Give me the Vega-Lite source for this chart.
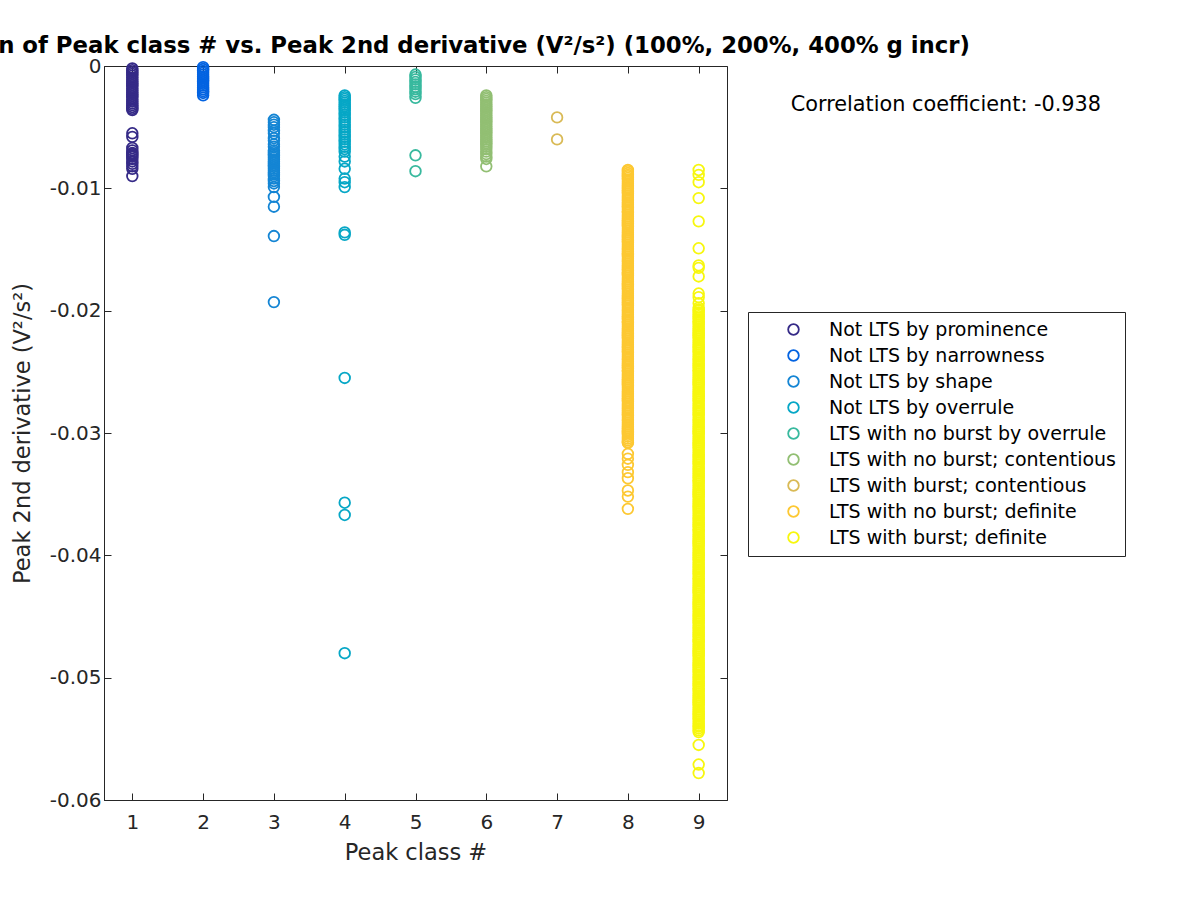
{
"$schema": "https://vega.github.io/schema/vega-lite/v6.json",
"width": 623, "height": 734,
"autosize": {"type": "none"},
"padding": {"left": 104, "top": 66, "right": 473, "bottom": 100},
"background": "white",
"title": {"text": "Distribution of Peak class # vs. Peak 2nd derivative (V²/s²) (100%, 200%, 400% g incr)", "anchor": "middle", "font": "DejaVu Sans", "fontSize": 22.8, "fontWeight": "bold", "color": "black", "baseline": "alphabetic", "offset": -20},
"datasets": {
"classes": [
{"c":1,"name":"Not LTS by prominence"},{"c":2,"name":"Not LTS by narrowness"},{"c":3,"name":"Not LTS by shape"},{"c":4,"name":"Not LTS by overrule"},{"c":5,"name":"LTS with no burst by overrule"},{"c":6,"name":"LTS with no burst; contentious"},{"c":7,"name":"LTS with burst; contentious"},{"c":8,"name":"LTS with no burst; definite"},{"c":9,"name":"LTS with burst; definite"}],
"points": [
{"c":1,"v":-0.0002},{"c":1,"v":-0.00035},{"c":1,"v":-0.0005},{"c":1,"v":-0.00065},{"c":1,"v":-0.0008},{"c":1,"v":-0.00095},{"c":1,"v":-0.0011},{"c":1,"v":-0.00125},{"c":1,"v":-0.0014},{"c":1,"v":-0.00155},{"c":1,"v":-0.0017},{"c":1,"v":-0.00185},{"c":1,"v":-0.002},{"c":1,"v":-0.00215},{"c":1,"v":-0.0023},{"c":1,"v":-0.00245},{"c":1,"v":-0.0026},{"c":1,"v":-0.00275},{"c":1,"v":-0.0029},{"c":1,"v":-0.00305},{"c":1,"v":-0.0032},{"c":1,"v":-0.00335},{"c":1,"v":-0.0035},{"c":1,"v":-0.0036},
{"c":1,"v":-0.0055},{"c":1,"v":-0.0058},{"c":1,"v":-0.0067},{"c":1,"v":-0.0069},{"c":1,"v":-0.0071},{"c":1,"v":-0.0072},{"c":1,"v":-0.0073},{"c":1,"v":-0.0074},{"c":1,"v":-0.0076},{"c":1,"v":-0.0078},{"c":1,"v":-0.008},{"c":1,"v":-0.0082},{"c":1,"v":-0.0084},{"c":1,"v":-0.009},
{"c":2,"v":-0.0001},{"c":2,"v":-0.00025},{"c":2,"v":-0.0004},{"c":2,"v":-0.00055},{"c":2,"v":-0.0007},{"c":2,"v":-0.00085},{"c":2,"v":-0.001},{"c":2,"v":-0.00115},{"c":2,"v":-0.0013},{"c":2,"v":-0.00145},{"c":2,"v":-0.0016},{"c":2,"v":-0.00175},{"c":2,"v":-0.0019},{"c":2,"v":-0.00205},{"c":2,"v":-0.0022},{"c":2,"v":-0.0024},
{"c":3,"v":-0.0044},{"c":3,"v":-0.0046},{"c":3,"v":-0.0048},{"c":3,"v":-0.005},{"c":3,"v":-0.0053},{"c":3,"v":-0.0055},{"c":3,"v":-0.0059},{"c":3,"v":-0.0061},{"c":3,"v":-0.0064},{"c":3,"v":-0.0066},{"c":3,"v":-0.0069},{"c":3,"v":-0.00705},{"c":3,"v":-0.0072},{"c":3,"v":-0.00735},{"c":3,"v":-0.0075},{"c":3,"v":-0.00765},{"c":3,"v":-0.0078},{"c":3,"v":-0.00795},{"c":3,"v":-0.0081},{"c":3,"v":-0.00825},{"c":3,"v":-0.0084},{"c":3,"v":-0.00855},{"c":3,"v":-0.0087},{"c":3,"v":-0.00885},{"c":3,"v":-0.009},{"c":3,"v":-0.0092},{"c":3,"v":-0.0094},{"c":3,"v":-0.0096},{"c":3,"v":-0.0099},{"c":3,"v":-0.0107},{"c":3,"v":-0.0115},{"c":3,"v":-0.0139},{"c":3,"v":-0.0193},
{"c":4,"v":-0.0024},{"c":4,"v":-0.00255},{"c":4,"v":-0.0027},{"c":4,"v":-0.00285},{"c":4,"v":-0.003},{"c":4,"v":-0.00315},{"c":4,"v":-0.0033},{"c":4,"v":-0.00345},{"c":4,"v":-0.0036},{"c":4,"v":-0.0038},{"c":4,"v":-0.004},{"c":4,"v":-0.0042},{"c":4,"v":-0.0044},{"c":4,"v":-0.0046},{"c":4,"v":-0.0048},{"c":4,"v":-0.005},{"c":4,"v":-0.0052},{"c":4,"v":-0.0054},{"c":4,"v":-0.0056},{"c":4,"v":-0.0058},{"c":4,"v":-0.006},{"c":4,"v":-0.0062},{"c":4,"v":-0.0064},{"c":4,"v":-0.0066},{"c":4,"v":-0.0068},{"c":4,"v":-0.007},{"c":4,"v":-0.0074},{"c":4,"v":-0.0078},{"c":4,"v":-0.0084},{"c":4,"v":-0.0092},{"c":4,"v":-0.0095},{"c":4,"v":-0.0099},{"c":4,"v":-0.0136},{"c":4,"v":-0.0138},{"c":4,"v":-0.0255},{"c":4,"v":-0.0357},{"c":4,"v":-0.0367},{"c":4,"v":-0.048},
{"c":5,"v":-0.0007},{"c":5,"v":-0.0009},{"c":5,"v":-0.0011},{"c":5,"v":-0.0013},{"c":5,"v":-0.0015},{"c":5,"v":-0.0017},{"c":5,"v":-0.0019},{"c":5,"v":-0.0021},{"c":5,"v":-0.0023},{"c":5,"v":-0.0026},{"c":5,"v":-0.0073},{"c":5,"v":-0.0086},
{"c":6,"v":-0.0024},{"c":6,"v":-0.00255},{"c":6,"v":-0.0027},{"c":6,"v":-0.00285},{"c":6,"v":-0.003},{"c":6,"v":-0.00315},{"c":6,"v":-0.0033},{"c":6,"v":-0.00345},{"c":6,"v":-0.0036},{"c":6,"v":-0.00375},{"c":6,"v":-0.0039},{"c":6,"v":-0.00405},{"c":6,"v":-0.0042},{"c":6,"v":-0.00435},{"c":6,"v":-0.0045},{"c":6,"v":-0.00465},{"c":6,"v":-0.0048},{"c":6,"v":-0.00495},{"c":6,"v":-0.0051},{"c":6,"v":-0.00525},{"c":6,"v":-0.0054},{"c":6,"v":-0.00555},{"c":6,"v":-0.0057},{"c":6,"v":-0.00585},{"c":6,"v":-0.006},{"c":6,"v":-0.00615},{"c":6,"v":-0.0063},{"c":6,"v":-0.00645},{"c":6,"v":-0.0066},{"c":6,"v":-0.0068},{"c":6,"v":-0.007},{"c":6,"v":-0.0072},{"c":6,"v":-0.0074},{"c":6,"v":-0.0076},{"c":6,"v":-0.0082},
{"c":7,"v":-0.0042},{"c":7,"v":-0.006},
{"c":8,"v":-0.0085},{"c":8,"v":-0.0086},{"c":8,"v":-0.00875},{"c":8,"v":-0.0089},
{"c":8,"v":-0.009},{"c":8,"v":-0.00915},{"c":8,"v":-0.0093},{"c":8,"v":-0.00945},{"c":8,"v":-0.0096},{"c":8,"v":-0.00975},{"c":8,"v":-0.0099},
{"c":8,"v":-0.01},{"c":8,"v":-0.01015},{"c":8,"v":-0.0103},{"c":8,"v":-0.01045},{"c":8,"v":-0.0106},{"c":8,"v":-0.01075},{"c":8,"v":-0.0109},
{"c":8,"v":-0.011},{"c":8,"v":-0.01115},{"c":8,"v":-0.0113},{"c":8,"v":-0.01145},{"c":8,"v":-0.0116},{"c":8,"v":-0.01175},{"c":8,"v":-0.0119},
{"c":8,"v":-0.012},{"c":8,"v":-0.01215},{"c":8,"v":-0.0123},{"c":8,"v":-0.01245},{"c":8,"v":-0.0126},{"c":8,"v":-0.01275},{"c":8,"v":-0.0129},
{"c":8,"v":-0.013},{"c":8,"v":-0.01315},{"c":8,"v":-0.0133},{"c":8,"v":-0.01345},{"c":8,"v":-0.0136},{"c":8,"v":-0.01375},{"c":8,"v":-0.0139},
{"c":8,"v":-0.014},{"c":8,"v":-0.01415},{"c":8,"v":-0.0143},{"c":8,"v":-0.01445},{"c":8,"v":-0.0146},{"c":8,"v":-0.01475},{"c":8,"v":-0.0149},
{"c":8,"v":-0.015},{"c":8,"v":-0.01515},{"c":8,"v":-0.0153},{"c":8,"v":-0.01545},{"c":8,"v":-0.0156},{"c":8,"v":-0.01575},{"c":8,"v":-0.0159},
{"c":8,"v":-0.016},{"c":8,"v":-0.01615},{"c":8,"v":-0.0163},{"c":8,"v":-0.01645},{"c":8,"v":-0.0166},{"c":8,"v":-0.01675},{"c":8,"v":-0.0169},
{"c":8,"v":-0.017},{"c":8,"v":-0.01715},{"c":8,"v":-0.0173},{"c":8,"v":-0.01745},{"c":8,"v":-0.0176},{"c":8,"v":-0.01775},{"c":8,"v":-0.0179},
{"c":8,"v":-0.018},{"c":8,"v":-0.01815},{"c":8,"v":-0.0183},{"c":8,"v":-0.01845},{"c":8,"v":-0.0186},{"c":8,"v":-0.01875},{"c":8,"v":-0.0189},
{"c":8,"v":-0.019},{"c":8,"v":-0.01915},{"c":8,"v":-0.0193},{"c":8,"v":-0.01945},{"c":8,"v":-0.0196},{"c":8,"v":-0.01975},{"c":8,"v":-0.0199},
{"c":8,"v":-0.02},{"c":8,"v":-0.02015},{"c":8,"v":-0.0203},{"c":8,"v":-0.02045},{"c":8,"v":-0.0206},{"c":8,"v":-0.02075},{"c":8,"v":-0.0209},
{"c":8,"v":-0.021},{"c":8,"v":-0.02115},{"c":8,"v":-0.0213},{"c":8,"v":-0.02145},{"c":8,"v":-0.0216},{"c":8,"v":-0.02175},{"c":8,"v":-0.0219},
{"c":8,"v":-0.022},{"c":8,"v":-0.02215},{"c":8,"v":-0.0223},{"c":8,"v":-0.02245},{"c":8,"v":-0.0226},{"c":8,"v":-0.02275},{"c":8,"v":-0.0229},
{"c":8,"v":-0.023},{"c":8,"v":-0.02315},{"c":8,"v":-0.0233},{"c":8,"v":-0.02345},{"c":8,"v":-0.0236},{"c":8,"v":-0.02375},{"c":8,"v":-0.0239},
{"c":8,"v":-0.024},{"c":8,"v":-0.02415},{"c":8,"v":-0.0243},{"c":8,"v":-0.02445},{"c":8,"v":-0.0246},{"c":8,"v":-0.02475},{"c":8,"v":-0.0249},
{"c":8,"v":-0.025},{"c":8,"v":-0.02515},{"c":8,"v":-0.0253},{"c":8,"v":-0.02545},{"c":8,"v":-0.0256},{"c":8,"v":-0.02575},{"c":8,"v":-0.0259},
{"c":8,"v":-0.026},{"c":8,"v":-0.02615},{"c":8,"v":-0.0263},{"c":8,"v":-0.02645},{"c":8,"v":-0.0266},{"c":8,"v":-0.02675},{"c":8,"v":-0.0269},
{"c":8,"v":-0.027},{"c":8,"v":-0.02715},{"c":8,"v":-0.0273},{"c":8,"v":-0.02745},{"c":8,"v":-0.0276},{"c":8,"v":-0.02775},{"c":8,"v":-0.0279},
{"c":8,"v":-0.028},{"c":8,"v":-0.02815},{"c":8,"v":-0.0283},{"c":8,"v":-0.02845},{"c":8,"v":-0.0286},{"c":8,"v":-0.02875},{"c":8,"v":-0.0289},
{"c":8,"v":-0.029},{"c":8,"v":-0.02915},{"c":8,"v":-0.0293},{"c":8,"v":-0.02945},{"c":8,"v":-0.0296},{"c":8,"v":-0.02975},{"c":8,"v":-0.0299},
{"c":8,"v":-0.03},{"c":8,"v":-0.03015},{"c":8,"v":-0.0303},{"c":8,"v":-0.03045},{"c":8,"v":-0.0306},{"c":8,"v":-0.03075},{"c":8,"v":-0.0308},
{"c":8,"v":-0.0317},{"c":8,"v":-0.0321},{"c":8,"v":-0.0326},{"c":8,"v":-0.0332},{"c":8,"v":-0.0337},{"c":8,"v":-0.0347},{"c":8,"v":-0.0352},{"c":8,"v":-0.0362},
{"c":9,"v":-0.0085},{"c":9,"v":-0.0089},{"c":9,"v":-0.0095},{"c":9,"v":-0.0108},{"c":9,"v":-0.0127},{"c":9,"v":-0.0149},{"c":9,"v":-0.0163},{"c":9,"v":-0.0165},{"c":9,"v":-0.0172},{"c":9,"v":-0.0186},{"c":9,"v":-0.0189},{"c":9,"v":-0.0194},{"c":9,"v":-0.01975},{"c":9,"v":-0.0199},
{"c":9,"v":-0.02},{"c":9,"v":-0.02015},{"c":9,"v":-0.0203},{"c":9,"v":-0.02045},{"c":9,"v":-0.0206},{"c":9,"v":-0.02075},{"c":9,"v":-0.0209},
{"c":9,"v":-0.021},{"c":9,"v":-0.02115},{"c":9,"v":-0.0213},{"c":9,"v":-0.02145},{"c":9,"v":-0.0216},{"c":9,"v":-0.02175},{"c":9,"v":-0.0219},
{"c":9,"v":-0.022},{"c":9,"v":-0.02215},{"c":9,"v":-0.0223},{"c":9,"v":-0.02245},{"c":9,"v":-0.0226},{"c":9,"v":-0.02275},{"c":9,"v":-0.0229},
{"c":9,"v":-0.023},{"c":9,"v":-0.02315},{"c":9,"v":-0.0233},{"c":9,"v":-0.02345},{"c":9,"v":-0.0236},{"c":9,"v":-0.02375},{"c":9,"v":-0.0239},
{"c":9,"v":-0.024},{"c":9,"v":-0.02415},{"c":9,"v":-0.0243},{"c":9,"v":-0.02445},{"c":9,"v":-0.0246},{"c":9,"v":-0.02475},{"c":9,"v":-0.0249},
{"c":9,"v":-0.025},{"c":9,"v":-0.02515},{"c":9,"v":-0.0253},{"c":9,"v":-0.02545},{"c":9,"v":-0.0256},{"c":9,"v":-0.02575},{"c":9,"v":-0.0259},
{"c":9,"v":-0.026},{"c":9,"v":-0.02615},{"c":9,"v":-0.0263},{"c":9,"v":-0.02645},{"c":9,"v":-0.0266},{"c":9,"v":-0.02675},{"c":9,"v":-0.0269},
{"c":9,"v":-0.027},{"c":9,"v":-0.02715},{"c":9,"v":-0.0273},{"c":9,"v":-0.02745},{"c":9,"v":-0.0276},{"c":9,"v":-0.02775},{"c":9,"v":-0.0279},
{"c":9,"v":-0.028},{"c":9,"v":-0.02815},{"c":9,"v":-0.0283},{"c":9,"v":-0.02845},{"c":9,"v":-0.0286},{"c":9,"v":-0.02875},{"c":9,"v":-0.0289},
{"c":9,"v":-0.029},{"c":9,"v":-0.02915},{"c":9,"v":-0.0293},{"c":9,"v":-0.02945},{"c":9,"v":-0.0296},{"c":9,"v":-0.02975},{"c":9,"v":-0.0299},
{"c":9,"v":-0.03},{"c":9,"v":-0.03015},{"c":9,"v":-0.0303},{"c":9,"v":-0.03045},{"c":9,"v":-0.0306},{"c":9,"v":-0.03075},{"c":9,"v":-0.0309},
{"c":9,"v":-0.031},{"c":9,"v":-0.03115},{"c":9,"v":-0.0313},{"c":9,"v":-0.03145},{"c":9,"v":-0.0316},{"c":9,"v":-0.03175},{"c":9,"v":-0.0319},
{"c":9,"v":-0.032},{"c":9,"v":-0.03215},{"c":9,"v":-0.0323},{"c":9,"v":-0.03245},{"c":9,"v":-0.0326},{"c":9,"v":-0.03275},{"c":9,"v":-0.0329},
{"c":9,"v":-0.033},{"c":9,"v":-0.03315},{"c":9,"v":-0.0333},{"c":9,"v":-0.03345},{"c":9,"v":-0.0336},{"c":9,"v":-0.03375},{"c":9,"v":-0.0339},
{"c":9,"v":-0.034},{"c":9,"v":-0.03415},{"c":9,"v":-0.0343},{"c":9,"v":-0.03445},{"c":9,"v":-0.0346},{"c":9,"v":-0.03475},{"c":9,"v":-0.0349},
{"c":9,"v":-0.035},{"c":9,"v":-0.03515},{"c":9,"v":-0.0353},{"c":9,"v":-0.03545},{"c":9,"v":-0.0356},{"c":9,"v":-0.03575},{"c":9,"v":-0.0359},
{"c":9,"v":-0.036},{"c":9,"v":-0.03615},{"c":9,"v":-0.0363},{"c":9,"v":-0.03645},{"c":9,"v":-0.0366},{"c":9,"v":-0.03675},{"c":9,"v":-0.0369},
{"c":9,"v":-0.037},{"c":9,"v":-0.03715},{"c":9,"v":-0.0373},{"c":9,"v":-0.03745},{"c":9,"v":-0.0376},{"c":9,"v":-0.03775},{"c":9,"v":-0.0379},
{"c":9,"v":-0.038},{"c":9,"v":-0.03815},{"c":9,"v":-0.0383},{"c":9,"v":-0.03845},{"c":9,"v":-0.0386},{"c":9,"v":-0.03875},{"c":9,"v":-0.0389},
{"c":9,"v":-0.039},{"c":9,"v":-0.03915},{"c":9,"v":-0.0393},{"c":9,"v":-0.03945},{"c":9,"v":-0.0396},{"c":9,"v":-0.03975},{"c":9,"v":-0.0399},
{"c":9,"v":-0.04},{"c":9,"v":-0.04015},{"c":9,"v":-0.0403},{"c":9,"v":-0.04045},{"c":9,"v":-0.0406},{"c":9,"v":-0.04075},{"c":9,"v":-0.0409},
{"c":9,"v":-0.041},{"c":9,"v":-0.04115},{"c":9,"v":-0.0413},{"c":9,"v":-0.04145},{"c":9,"v":-0.0416},{"c":9,"v":-0.04175},{"c":9,"v":-0.0419},
{"c":9,"v":-0.042},{"c":9,"v":-0.04215},{"c":9,"v":-0.0423},{"c":9,"v":-0.04245},{"c":9,"v":-0.0426},{"c":9,"v":-0.04275},{"c":9,"v":-0.0429},
{"c":9,"v":-0.043},{"c":9,"v":-0.04315},{"c":9,"v":-0.0433},{"c":9,"v":-0.04345},{"c":9,"v":-0.0436},{"c":9,"v":-0.04375},{"c":9,"v":-0.0439},
{"c":9,"v":-0.044},{"c":9,"v":-0.04415},{"c":9,"v":-0.0443},{"c":9,"v":-0.04445},{"c":9,"v":-0.0446},{"c":9,"v":-0.04475},{"c":9,"v":-0.0449},
{"c":9,"v":-0.045},{"c":9,"v":-0.04515},{"c":9,"v":-0.0453},{"c":9,"v":-0.04545},{"c":9,"v":-0.0456},{"c":9,"v":-0.04575},{"c":9,"v":-0.0459},
{"c":9,"v":-0.046},{"c":9,"v":-0.04615},{"c":9,"v":-0.0463},{"c":9,"v":-0.04645},{"c":9,"v":-0.0466},{"c":9,"v":-0.04675},{"c":9,"v":-0.0469},
{"c":9,"v":-0.047},{"c":9,"v":-0.04715},{"c":9,"v":-0.0473},{"c":9,"v":-0.04745},{"c":9,"v":-0.0476},{"c":9,"v":-0.04775},{"c":9,"v":-0.0479},
{"c":9,"v":-0.048},{"c":9,"v":-0.04815},{"c":9,"v":-0.0483},{"c":9,"v":-0.04845},{"c":9,"v":-0.0486},{"c":9,"v":-0.04875},{"c":9,"v":-0.0489},
{"c":9,"v":-0.049},{"c":9,"v":-0.04915},{"c":9,"v":-0.0493},{"c":9,"v":-0.04945},{"c":9,"v":-0.0496},{"c":9,"v":-0.04975},{"c":9,"v":-0.0499},
{"c":9,"v":-0.05},{"c":9,"v":-0.05015},{"c":9,"v":-0.0503},{"c":9,"v":-0.05045},{"c":9,"v":-0.0506},{"c":9,"v":-0.05075},{"c":9,"v":-0.0509},
{"c":9,"v":-0.051},{"c":9,"v":-0.05115},{"c":9,"v":-0.0513},{"c":9,"v":-0.05145},{"c":9,"v":-0.0516},{"c":9,"v":-0.05175},{"c":9,"v":-0.0519},
{"c":9,"v":-0.052},{"c":9,"v":-0.05215},{"c":9,"v":-0.0523},{"c":9,"v":-0.05245},{"c":9,"v":-0.0526},{"c":9,"v":-0.05275},{"c":9,"v":-0.0529},
{"c":9,"v":-0.053},{"c":9,"v":-0.05315},{"c":9,"v":-0.0533},{"c":9,"v":-0.05345},{"c":9,"v":-0.0536},{"c":9,"v":-0.05375},{"c":9,"v":-0.0539},
{"c":9,"v":-0.054},{"c":9,"v":-0.05415},{"c":9,"v":-0.0543},{"c":9,"v":-0.05445},
{"c":9,"v":-0.0555},{"c":9,"v":-0.0571},{"c":9,"v":-0.0578}
]},
"layer": [
{"data": {"name": "points"},
 "transform": [{"lookup": "c", "from": {"data": {"name": "classes"}, "key": "c", "fields": ["name"]}}],
 "mark": {"type": "point", "shape": "circle", "filled": false, "size": 113, "strokeWidth": 1.8, "opacity": 1},
 "encoding": {
  "x": {"field": "c", "type": "quantitative", "scale": {"domain": [0.6, 9.4], "nice": false, "zero": false},
        "axis": {"orient": "bottom", "values": [1,2,3,4,5,6,7,8,9], "format": "d", "title": "Peak class #", "labelPadding": 19, "titlePadding": 9}},
  "y": {"field": "v", "type": "quantitative", "scale": {"domain": [-0.06, 0], "nice": false, "zero": false},
        "axis": {"orient": "left", "values": [0,-0.01,-0.02,-0.03,-0.04,-0.05,-0.06], "labelExpr": "datum.value == 0 ? '0' : '-' + format(-datum.value, '.2f')", "title": "Peak 2nd derivative (V²/s²)", "labelPadding": 10, "titlePadding": 15}},
  "color": {"field": "name", "type": "nominal",
   "scale": {"domain": ["Not LTS by prominence","Not LTS by narrowness","Not LTS by shape","Not LTS by overrule","LTS with no burst by overrule","LTS with no burst; contentious","LTS with burst; contentious","LTS with no burst; definite","LTS with burst; definite"],
             "range": ["#352a87","#0363e1","#1485d4","#06a7c6","#38b99e","#92bf73","#d9ba56","#fdc832","#f7f70e"]},
   "legend": {"title": null}}
 }},
{"data": {"values": [{"t": "Correlation coefficient: -0.938"}]},
 "mark": {"type": "text", "align": "left", "baseline": "middle", "font": "DejaVu Sans", "fontSize": 20.8, "color": "black"},
 "encoding": {
  "x": {"datum": 10.3, "type": "quantitative", "axis": {"orient": "top", "labels": false, "title": null, "domain": false, "values": [1,2,3,4,5,6,7,8,9]}},
  "y": {"datum": -0.0032, "type": "quantitative", "axis": {"orient": "right", "labels": false, "title": null, "domain": false, "values": [0,-0.01,-0.02,-0.03,-0.04,-0.05,-0.06]}},
  "text": {"field": "t"}
 }}
],
"resolve": {"axis": {"x": "independent", "y": "independent"}},
"config": {
 "font": "DejaVu Sans",
 "view": {"stroke": "#262626", "strokeWidth": 1},
 "axis": {"grid": false, "domainColor": "#262626", "tickColor": "#262626", "labelColor": "#262626", "titleColor": "#262626", "labelFont": "DejaVu Sans", "titleFont": "DejaVu Sans", "labelFontSize": 20, "titleFontSize": 22.5, "titleFontWeight": "normal", "tickSize": -7, "domainWidth": 1, "tickWidth": 1},
 "legend": {"orient": "none", "legendX": 644, "legendY": 246, "strokeColor": "#262626", "fillColor": "white", "padding": 8, "labelFont": "DejaVu Sans", "labelFontSize": 19, "labelColor": "black", "symbolType": "circle", "symbolSize": 113, "symbolStrokeWidth": 1.8, "symbolOffset": 28, "labelOffset": 26, "rowPadding": 6, "labelLimit": 500}
}
}
